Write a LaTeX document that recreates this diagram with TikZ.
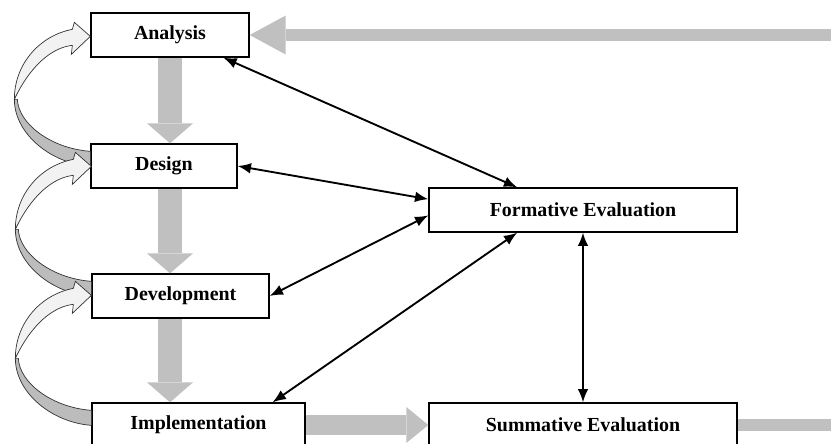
\documentclass[tikz,border=0pt]{standalone}
\usepackage{fontspec}
\setmainfont{Liberation Serif}
\usepackage{xcolor}
\usetikzlibrary{arrows.meta, calc, positioning}
\tikzset{> = { Latex[length = 4mm, width = 3.2mm] }}
\definecolor{bandgray}{HTML}{C0C0C0}
\definecolor{facelight}{HTML}{F2F2F2}
\definecolor{facedark}{HTML}{BCBCBC}

\begin{document}
\begin{tikzpicture}[x = 0.03cm, y = -0.03cm,
		stage/.style = {draw, line width = 1.1pt, fill = white, inner sep = 0pt, minimum height = 1.32cm, font = \bfseries\fontsize{17}{20}\selectfont},
		link/.style = {line width = 1.6pt},
		flow/.style = {draw = bandgray, line width = 0.72cm, -{Triangle[width = 1.38cm, length = 0.6cm, line width = 0pt]}},
		handover/.style = {draw = bandgray, line width = 0.6cm, -{Triangle[width = 1.08cm, length = 0.66cm, line width = 0pt]}},
		feedback/.style = {draw = bandgray, line width = 0.36cm, -{Triangle[width = 1.17cm, length = 1.08cm, line width = 0pt]}},
		loopface/.style = {draw = black!80, line width = 0.6pt}]
		\useasboundingbox (0, 0) rectangle (831, 443);
		\clip (0, 0) rectangle (831, 443);

		\node [stage, minimum width = 4.74cm] (ana) at (170, 35) {Analysis};
		\node [stage, minimum width = 4.38cm] (des) at (164, 166) {Design};
		\node [stage, minimum width = 5.31cm] (dev) at (180.5, 296) {Development};
		\node [stage, minimum width = 6.39cm] (imp) at (198.5, 425) {Implementation};
		\node [stage, minimum width = 9.24cm] (form) at (583, 210) {Formative Evaluation};
		\node [stage, minimum width = 9.24cm] (summ) at (583, 425) {Summative Evaluation};

		\draw [flow] (ana.south) -- (ana.south |- des.north);
		\draw [flow] (ana.south |- des.south) -- (ana.south |- dev.north);
		\draw [flow] (ana.south |- dev.south) -- (ana.south |- imp.north);
		\draw [handover] (imp.east) -- (summ.west);
		\draw [feedback] (summ.east) -- ++(99, 0) |- (ana.east);

		\foreach \lo in {des, dev, imp} {
			\begin{scope}[shift = {(\lo.north west)}]
				\filldraw [loopface, fill = facedark] (-76, -44) .. controls (-76, -10) and (-40, 20) .. (0, 23) -- (0, 8) .. controls (-40, 5) and (-72, -20) .. (-73, -44) -- cycle;
				\filldraw [loopface, fill = facelight] (-18, -114) .. controls (-50, -108) and (-76, -80) .. (-76, -44) .. controls (-60, -78) and (-38, -96) .. (-18, -98) -- (-19, -89) -- (0, -107) -- (-16, -121) -- cycle;
			\end{scope}
		}

		\draw [<->, link] (ana.-23) -- (form.161);
		\draw [<->, link] (des.east) -- (form.176);
		\draw [<->, link] (dev.east) -- (form.182);
		\draw [<->, link] (imp.17) -- (form.199);
		\draw [<->, link] (form.south) -- (summ.north);
	\end{tikzpicture}
\end{document}
